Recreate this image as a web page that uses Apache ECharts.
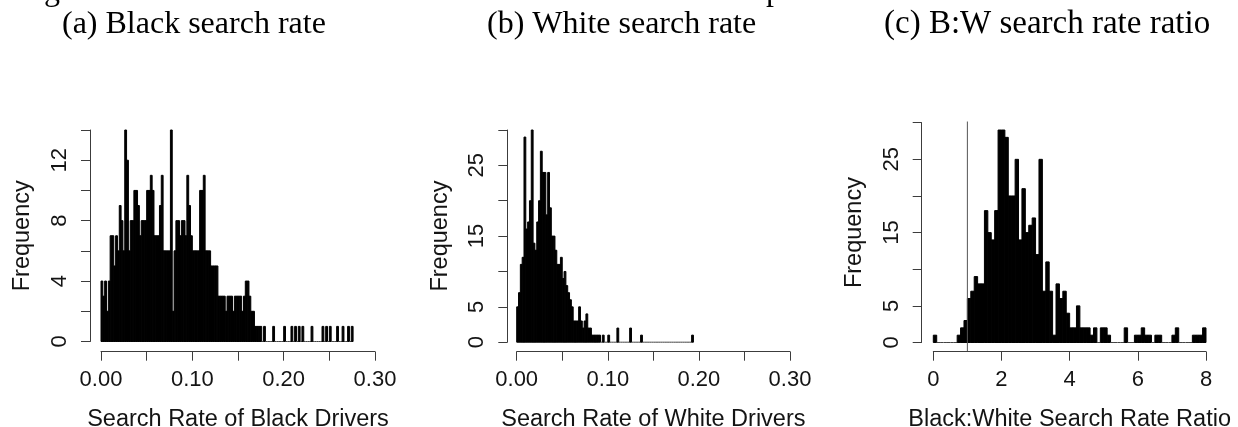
<!DOCTYPE html>
<html><head><meta charset="utf-8">
<script src="https://cdn.jsdelivr.net/npm/echarts@6/dist/echarts.min.js"></script>
<style>html,body{margin:0;padding:0;background:#fff}#c{width:1238px;height:427px}</style>
</head><body><div id="c"></div>
<script>
// ---------- data ----------
const binWidthA = 0.002;
const countsA = [4,3,4,2,4,7,7,5,7,6, 9,8,6,14,12,6,8,8,10,10, 9,7,8,8,8,10,10,11,10,7,
  7,7,9,11,6,6,6,6,14,2, 6,8,8,7,8,8,7,11,9,7, 6,6,6,6,10,10,11,6,6,6,
  5,5,5,5,3,3,3,3,2,3, 3,3,2,3,3,3,3,2,3,4, 4,3,2,2,1,1,1,1,0,1,
  0,0,0,0,1,0,0,0,0,0, 1,0,0,0,1,0,1,0,1,0, 1,0,0,0,0,1,0,0,0,0,
  0,1,0,1,0,1,0,0,0,1, 0,0,1,0,0,1,0,1];
const binWidthB = 0.002;
const countsB = [5,7,11,12,29,16,17,20,30,14, 13,17,20,27,24,24,18,24,19,15,
  15,13,11,11,12,9,10,8,7,6, 5,3,3,3,5,3,2,3,4,2,
  2,1,1,1,1,1,0,1,0,0, 1,0,0,0,0,2,0,0,0,0, 0,0,2,0,0,0,0,0,1,0,
  0,0,0,0,0,0,0,0,0,0, 0,0,0,0,0,0,0,0,0,0, 0,0,0,0,0,0,1];
const binWidthC = 0.1;
const countsC = [1,0,0,0,0,0,0,1,2,3, 6,7,9,8,8,18,15,14,18,29,
  29,28,20,20,25,14,21,15,16,17, 12,25,7,11,7,1,8,6,7,4,
  2,2,5,2,2,2,1,2,0,2, 2,1,0,0,0,0,2,0,0,1, 1,2,1,1,0,1,1,0,0,0,
  1,2,0,0,0,0,1,1,1,2];
const refLineC = 1;
const refLineSpanC = [-1.16, 30.16];

const xLabelsA = ['0.00','0.10','0.20','0.30'];
const xLabelsB = ['0.00','0.10','0.20','0.30'];
const xLabelsC = ['0','2','4','6','8'];
const yLabelsA = [0,4,8,12];
const yLabelsB = [0,5,15,25];
const yLabelsC = [0,5,15,25];

const titles = ['(a) Black search rate','(b) White search rate','(c) B:W search rate ratio'];
const xNames = ['Search Rate of Black Drivers','Search Rate of White Drivers','Black:White Search Rate Ratio'];
const yName = 'Frequency';

// ---------- chart ----------
const chart = echarts.init(document.getElementById('c'), null, {renderer:'canvas', width:1238, height:427});
const SANS = 'Liberation Sans, Arial, Helvetica, sans-serif';
const SERIF = 'Liberation Serif, Times New Roman, serif';
const AXC = '#3c3c3c';
const TXC = '#141414';

function histData(counts, w){ return counts.map((c,i)=>[i*w, (i+1)*w, c]); }
function renderHist(params, api){
  const x0 = api.value(0), x1 = api.value(1), c = api.value(2);
  const p0 = api.coord([x0, c]), p1 = api.coord([x1, 0]);
  if (c === 0) {
    return {type:'line', shape:{x1:p0[0], y1:p1[1], x2:p1[0], y2:p1[1]}, style:{stroke:'#444', lineWidth:1}};
  }
  return {type:'rect', shape:{x:p0[0], y:p0[1], width:p1[0]-p0[0], height:p1[1]-p0[1]},
          style:{fill:'#000', stroke:'#000', lineWidth:1}};
}

function xAxis(idx, max, interval, labels, digits, name, offset){
  return {gridIndex:idx, type:'value', min:0, max:max, interval:interval, offset:offset,
    axisLine:{show:true, onZero:false, lineStyle:{color:AXC, width:1}},
    axisTick:{show:true, length:9, lineStyle:{color:AXC, width:1}},
    splitLine:{show:false},
    axisLabel:{fontFamily:SANS, fontSize:22, color:TXC, margin:17,
      formatter:function(v){ const s = v.toFixed(digits); return labels.indexOf(s) >= 0 ? s : ''; }},
    name:name, nameLocation:'middle', nameGap:56,
    nameTextStyle:{fontFamily:SANS, fontSize:23.5, color:TXC}};
}
function yAxis(idx, max, interval, labels, offset){
  return {gridIndex:idx, type:'value', min:0, max:max, interval:interval, offset:offset,
    axisLine:{show:true, onZero:false, lineStyle:{color:AXC, width:1}},
    axisTick:{show:true, length:9, lineStyle:{color:AXC, width:1}},
    splitLine:{show:false},
    axisLabel:{fontFamily:SANS, fontSize:22, color:TXC, margin:19, rotate:90,
      formatter:function(v){ return labels.some(l => Math.abs(l - v) < 1e-9) ? String(Math.round(v)) : ''; }},
    name:yName, nameLocation:'middle', nameGap:55,
    nameTextStyle:{fontFamily:SANS, fontSize:23.5, color:TXC}};
}

const titleStyle = {fontFamily:SERIF, fontSize:32, fontWeight:'normal', color:'#000'};
const titleStyleC = {fontFamily:SERIF, fontSize:33, fontWeight:'normal', color:'#000'};

chart.setOption({
  animation:false,
  backgroundColor:'#fff',
  title:[
    {text:titles[0], left:62, top:9, padding:0, textStyle:titleStyle},
    {text:titles[1], left:487, top:9, padding:0, textStyle:titleStyle},
    {text:titles[2], left:884, top:8, padding:0, textStyle:titleStyleC}
  ],
  graphic:[
    {type:'text', left:44, top:-24, style:{text:'g', font:'32px ' + SERIF, fill:'#000'}},
    {type:'text', left:766, top:-24, style:{text:'p', font:'32px ' + SERIF, fill:'#000'}}
  ],
  grid:[
    {left:101, top:130, width:274, height:211.5, containLabel:false, outerBoundsMode:'none'},
    {left:516.7, top:130, width:273.3, height:212.2, containLabel:false, outerBoundsMode:'none'},
    {left:933.3, top:122.7, width:272.7, height:219.8, containLabel:false, outerBoundsMode:'none'}
  ],
  xAxis:[
    xAxis(0, 0.3, 0.05, xLabelsA, 2, xNames[0], 10.2),
    xAxis(1, 0.3, 0.05, xLabelsB, 2, xNames[1], 9.5),
    xAxis(2, 8, 2, xLabelsC, 0, xNames[2], 9.2)
  ],
  yAxis:[
    yAxis(0, 14, 2, yLabelsA, 11),
    yAxis(1, 30, 5, yLabelsB, 9.4),
    yAxis(2, 30, 5, yLabelsC, 11.6)
  ],
  series:[
    {type:'custom', xAxisIndex:0, yAxisIndex:0, renderItem:renderHist, data:histData(countsA, binWidthA), encode:{x:[0,1], y:2}, silent:true},
    {type:'custom', xAxisIndex:1, yAxisIndex:1, renderItem:renderHist, data:histData(countsB, binWidthB), encode:{x:[0,1], y:2}, silent:true},
    {type:'custom', xAxisIndex:2, yAxisIndex:2, renderItem:renderHist, data:histData(countsC, binWidthC), encode:{x:[0,1], y:2}, silent:true},
    {type:'line', xAxisIndex:2, yAxisIndex:2, clip:false, symbol:'none', silent:true,
      data:[[refLineC, refLineSpanC[0]], [refLineC, refLineSpanC[1]]],
      lineStyle:{color:'#555', width:1}}
  ]
});
</script></body></html>
